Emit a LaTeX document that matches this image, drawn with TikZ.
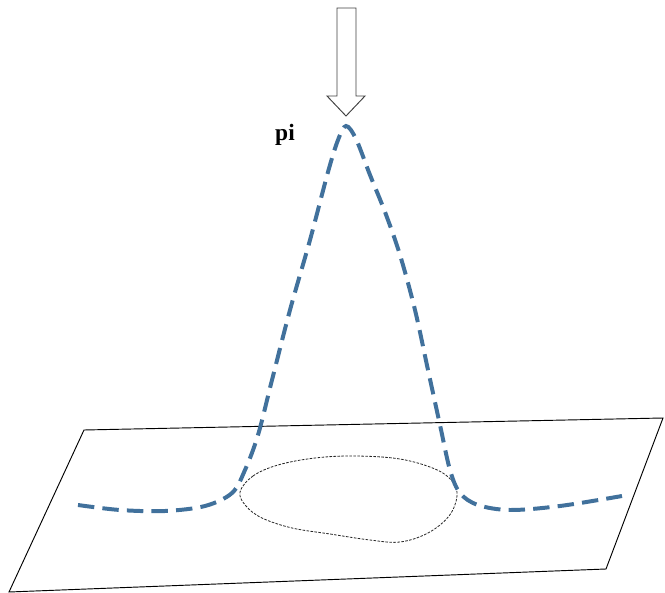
\documentclass[tikz,border=0pt]{standalone}
\usepackage{fontspec}
\setmainfont{Liberation Serif}
\usepackage{xcolor}
\definecolor{wave}{HTML}{41719C}
\usetikzlibrary{positioning}

\begin{document}
\begin{tikzpicture}[
  x=0.03cm, y=-0.03cm,
  plane/.style={draw=black, line width=0.8pt},
  pulse/.style={draw=wave, line width=3.4pt, dash pattern=on 14pt off 7pt},
  loopline/.style={draw=black!85, line width=0.7pt, dash pattern=on 2.2pt off 1.2pt},
  inflow/.style={draw=black!75, fill=white, line width=0.8pt, line join=miter},
  lbl/.style={font=\bfseries\fontsize{20}{24}\selectfont, inner sep=1pt}
]
\useasboundingbox (0,0) rectangle (665,593);
% plane
\path[plane] (84,430) -- (663,418) -- (606,569) -- (9,592) -- cycle;
% closed contour on the plane
\draw[loopline] plot[smooth cycle, tension=0.6] coordinates {
  (240,492) (253,476) (278,465) (315,458) (355,456) (400,459)
  (435,469) (452,481) (457,496) (449,516) (428,533) (400,542)
  (370,540) (330,534) (292,528) (262,518) (246,506)};
% peaked profile
\draw[pulse] plot[smooth, tension=0.55] coordinates {
  (78,505) (120,510) (165,511) (205,506) (232,493) (245,470)
  (258,435) (272,380) (290,310) (310,240) (328,172) (338,140)
  (346,126) (356,139) (370,175) (385,212) (400,255) (415,310)
  (428,370) (440,425) (450,470) (460,493) (478,505) (510,510)
  (560,506) (622,496)};
% incoming arrow
\path[inflow] (337,8) -- (356,8) -- (356,96) -- (365,96) -- (346,116)
  -- (327,96) -- (337,96) -- cycle;
\node[lbl, anchor=base] (pi) at (285,141) {pi};
\end{tikzpicture}
\end{document}
